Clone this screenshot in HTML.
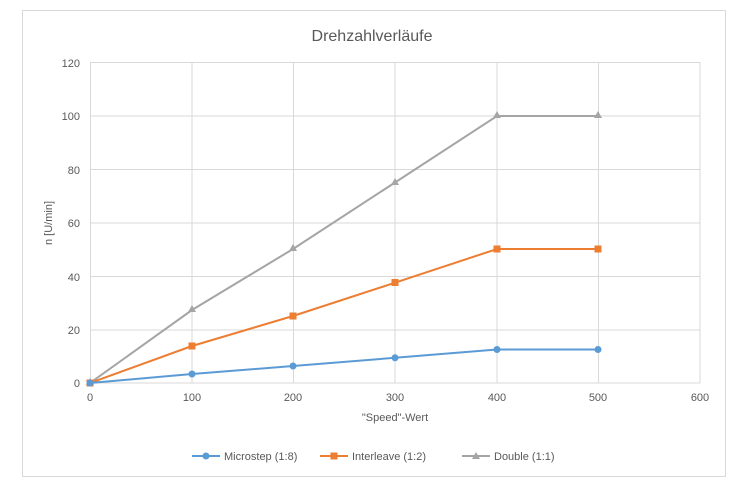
<!DOCTYPE html><html><head><style>body{margin:0;background:#fff}svg{display:block}text{font-family:"Liberation Sans",sans-serif}</style></head><body>
<svg width="740" height="484" xmlns="http://www.w3.org/2000/svg">
<rect x="22.5" y="10.5" width="703" height="466" fill="#fff" stroke="#d9d9d9"/>
<text x="372" y="41" font-size="16" fill="#595959" text-anchor="middle">Drehzahlverläufe</text>
<g stroke="#d9d9d9" stroke-width="1">
<line x1="90" y1="62.5" x2="700" y2="62.5"/><line x1="90" y1="116" x2="700" y2="116"/><line x1="90" y1="169.5" x2="700" y2="169.5"/><line x1="90" y1="223" x2="700" y2="223"/><line x1="90" y1="276.5" x2="700" y2="276.5"/><line x1="90" y1="330" x2="700" y2="330"/><line x1="90" y1="383" x2="700" y2="383"/>
<line x1="90.5" y1="62" x2="90.5" y2="383"/><line x1="192" y1="62" x2="192" y2="383"/><line x1="293.5" y1="62" x2="293.5" y2="383"/><line x1="395" y1="62" x2="395" y2="383"/><line x1="497" y1="62" x2="497" y2="383"/><line x1="598.5" y1="62" x2="598.5" y2="383"/><line x1="700" y1="62" x2="700" y2="383"/>
</g>
<g font-size="11" fill="#595959" text-anchor="end">
<text x="80" y="67">120</text><text x="80" y="120">100</text><text x="80" y="174">80</text><text x="80" y="227">60</text><text x="80" y="281">40</text><text x="80" y="334">20</text><text x="80" y="387">0</text></g>
<g font-size="11" fill="#595959" text-anchor="middle">
<text x="90" y="401">0</text><text x="192" y="401">100</text><text x="293" y="401">200</text><text x="395" y="401">300</text><text x="497" y="401">400</text><text x="598" y="401">500</text><text x="700" y="401">600</text>
<text x="395" y="421">"Speed"-Wert</text>
<text transform="translate(52,223) rotate(-90)">n [U/min]</text></g>
<polyline fill="none" stroke="#a5a5a5" stroke-width="2" points="90,383 192,310 293,249 395,182.5 497,116 598,116"/>
<polyline fill="none" stroke="#ed7d31" stroke-width="2" points="90,383 192,346 293,316 395,282.7 497,249 598,249"/>
<polyline fill="none" stroke="#5b9bd5" stroke-width="2" points="90,383 192,374 293,366 395,357.8 497,349.5 598,349.5"/>
<g fill="#a5a5a5"><path d="M90,378l4,7h-8z"/><path d="M192,305l4,7h-8z"/><path d="M293,244l4,7h-8z"/><path d="M395,178l4,7h-8z"/><path d="M497,111l4,7h-8z"/><path d="M598,111l4,7h-8z"/></g>
<g fill="#ed7d31"><rect x="86.5" y="379.5" width="7" height="7"/><rect x="188.5" y="342.5" width="7" height="7"/><rect x="289.5" y="312.5" width="7" height="7"/><rect x="391.5" y="279" width="7" height="7"/><rect x="493.5" y="245.5" width="7" height="7"/><rect x="594.5" y="245.5" width="7" height="7"/></g>
<g fill="#5b9bd5"><circle cx="90" cy="383" r="3.5"/><circle cx="192" cy="374" r="3.5"/><circle cx="293" cy="366" r="3.5"/><circle cx="395" cy="357.8" r="3.5"/><circle cx="497" cy="349.5" r="3.5"/><circle cx="598" cy="349.5" r="3.5"/></g>
<g font-size="11" fill="#595959">
<line x1="192" y1="456" x2="220" y2="456" stroke="#5b9bd5" stroke-width="2"/><circle cx="206" cy="456" r="3.5" fill="#5b9bd5"/><text x="224" y="460">Microstep (1:8)</text>
<line x1="320" y1="456" x2="348" y2="456" stroke="#ed7d31" stroke-width="2"/><rect x="330.5" y="452.5" width="7" height="7" fill="#ed7d31"/><text x="352" y="460">Interleave (1:2)</text>
<line x1="462" y1="456" x2="490" y2="456" stroke="#a5a5a5" stroke-width="2"/><path d="M476,452l4,7h-8z" fill="#a5a5a5"/><text x="494" y="460">Double (1:1)</text></g>
</svg></body></html>
